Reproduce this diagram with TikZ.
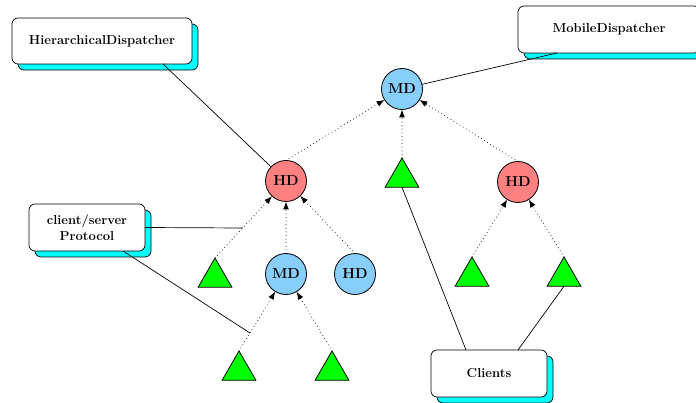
\documentclass[tikz,border=0pt]{standalone}
\usetikzlibrary{shapes.geometric,shadows,arrows.meta}
\definecolor{hdred}{RGB}{255,128,128}
\definecolor{mdblue}{RGB}{135,206,250}
\definecolor{tgreen}{RGB}{0,255,0}
\definecolor{shcyan}{RGB}{0,255,255}
\begin{document}
\begin{tikzpicture}[x=1pt,y=-1pt,
  labelfont/.style={font=\fontsize{13}{15.5}\selectfont\bfseries},
  dispatcher/.style={circle, draw, line width=0.8pt, minimum size=41pt,
    inner sep=0pt, outer sep=0pt, font=\fontsize{14.5}{16}\selectfont\bfseries},
  hd/.style={dispatcher, fill=hdred},
  md/.style={dispatcher, fill=mdblue},
  client/.style={regular polygon, regular polygon sides=3, draw,
    line width=0.8pt, fill=tgreen, minimum size=39pt, inner sep=0pt, outer sep=0pt},
  infobox/.style={rectangle, rounded corners=6pt, draw, line width=0.7pt,
    fill=white, align=center, labelfont, inner sep=0pt, outer sep=0pt,
    copy shadow={shadow xshift=6pt, shadow yshift=-6pt, fill=shcyan,
      draw=black, line width=0.7pt}},
  dotarrow/.style={line width=1pt, line cap=round, dash pattern=on 0pt off 3.6pt,
    -{Latex[length=8pt,width=6pt]}},
  link/.style={line width=0.7pt}
]
\useasboundingbox (0,0) rectangle (696,403);
\clip (0,0) rectangle (696,403);

% annotation boxes
\node[infobox, minimum width=180pt, minimum height=46pt] (hier) at (102,41) {HierarchicalDispatcher};
\node[infobox, minimum width=182pt, minimum height=47pt] (mob) at (609,29.5) {MobileDispatcher};
\node[infobox, minimum width=116pt, minimum height=47pt] (cs) at (87,227.5) {client/server\\Protocol};
\node[infobox, minimum width=116pt, minimum height=47pt] (cli) at (489,373.5) {Clients};

% dispatchers
\node[md] (mdt) at (402,89) {MD};
\node[hd] (hdl) at (286,181) {HD};
\node[hd] (hdr) at (518,182) {HD};
\node[md] (mdl) at (286,274) {MD};
\node[md] (hdb) at (355,274) {HD};

% clients
\node[client] (trim) at (402,177.5) {};
\node[client] (tril) at (215,277.5) {};
\node[client] (trra) at (472,276.5) {};
\node[client] (trrb) at (564,276.5) {};
\node[client] (trba) at (239,370.5) {};
\node[client] (trbb) at (332,370.5) {};

% hierarchy
\draw[dotarrow] (hdl.north) -- (mdt);
\draw[dotarrow] (trim.corner 1) -- (mdt);
\draw[dotarrow] (hdr.north) -- (mdt);
\draw[dotarrow] (tril.corner 1) -- (hdl);
\draw[dotarrow] (mdl.north) -- (hdl);
\draw[dotarrow] (hdb.north) -- (hdl);
\draw[dotarrow] (trba.corner 1) -- (mdl);
\draw[dotarrow] (trbb.corner 1) -- (mdl);
\draw[dotarrow] (trra.corner 1) -- (hdr);
\draw[dotarrow] (trrb.corner 1) -- (hdr);

% annotation links
\coordinate (csa) at (243,228);
\coordinate (csb) at (250,333);
\draw[link] ([xshift=61pt]hier.south) -- (hdl);
\draw[link] (mdt) -- ([xshift=-52pt]mob.south);
\draw[link] (cs.east) -- (csa);
\draw[link] ([xshift=36pt]cs.south) -- (csb);
\draw[link] (trim.side 2) -- ([xshift=-23pt]cli.north);
\draw[link] (trrb.side 2) -- ([xshift=29pt]cli.north);
\end{tikzpicture}
\end{document}
